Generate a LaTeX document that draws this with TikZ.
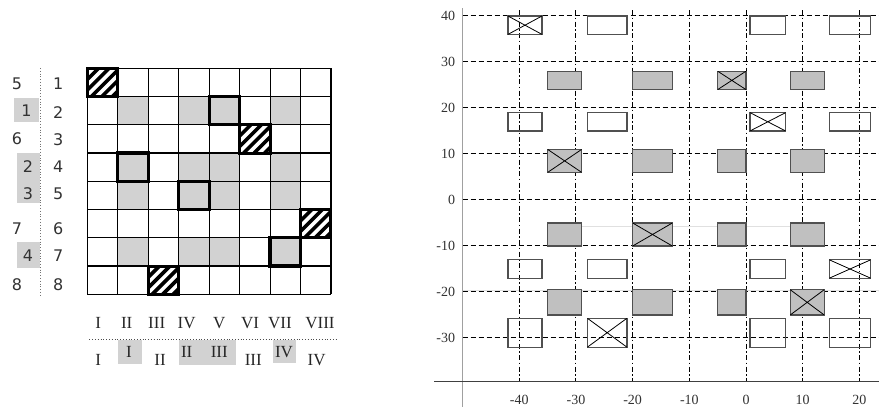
\documentclass[tikz,border=0pt]{standalone}
\usepackage{fontspec}
\setmainfont{Liberation Serif}
\newfontfamily\digitfont{DejaVu Sans}
\definecolor{cellfill}{RGB}{210,210,210}
\definecolor{slotfill}{RGB}{192,192,192}
\definecolor{slotline}{RGB}{80,80,80}
\definecolor{axisline}{RGB}{160,160,160}
\definecolor{labeltext}{RGB}{50,50,50}
\tikzset{
  hatched/.style={line width=3pt, path picture={
      \foreach \k in {-4,...,3}
        \draw[line width=3.6pt] ([xshift=\k*10.5pt+4pt]path picture bounding box.south west) -- ++(36pt,36pt);}},
  marked/.style={line width=3.2pt},
  rownum/.style={font=\digitfont\fontsize{16}{16}\selectfont, text=labeltext, inner sep=0pt},
  colnum/.style={font=\fontsize{17}{17}\selectfont, text=black!85, inner sep=0pt},
  ticklabel/.style={font=\fontsize{14}{14}\selectfont, text=labeltext, inner sep=0pt},
  hgrid/.style={dash pattern=on 5pt off 3pt, line width=1pt},
  vgrid/.style={dash pattern=on 5pt off 2.5pt on 1.5pt off 2.5pt, line width=1pt},
  slot/.style={draw=slotline, line width=1.1pt},
  crossed/.style={path picture={
      \draw[line width=0.8pt] (path picture bounding box.south west) -- (path picture bounding box.north east)
        (path picture bounding box.north west) -- (path picture bounding box.south east);}}
}
\begin{document}
\begin{tikzpicture}[x=1pt,y=1pt]
  \useasboundingbox (0,0) rectangle (879,407);
  % 8x8 table
  \begin{scope}[shift={(87.3pt,338.7pt)},x=30.46pt,y=-28.25pt]
    \foreach \r in {2,4,5,7}
      \foreach \c in {2,4,5,7}
        \fill[cellfill] (\c-1,\r-1) rectangle (\c,\r);
    \foreach \i in {0,...,8}
    {
      \draw[line width=1.1pt] (\i,0) -- (\i,8);
      \draw[line width=1.1pt] (0,\i) -- (8,\i);
    }
    \foreach \c/\r in {1/1,6/3,8/6,3/8}
      \draw[hatched] (\c-1,\r-1) rectangle (\c,\r);
    \foreach \c/\r in {5/2,2/4,4/5,7/7}
      \draw[marked] (\c-1,\r-1) rectangle (\c,\r);
  \end{scope}
  % row and column labels
  \begin{scope}[shift={(0pt,407pt)},y=-1pt]
    \fill[cellfill] (14,97.7) rectangle (39,121.7);
    \fill[cellfill] (16.7,153) rectangle (40,203);
    \fill[cellfill] (16.7,241.7) rectangle (40,268.3);
    \draw[dotted, line width=0.8pt, black!55] (40.7,68) -- (40.7,297);
    \foreach \n/\x/\y [count=\i] in {5/17/83.3, 1/26.5/111, 6/17/138.3, 2/28/166.7, 3/28/193.3, 7/17/228.3, 4/28/256, 8/17/284.3}
      \node[rownum] (order\i) at (\x,\y) {\n};
    \foreach \y [count=\i] in {83.3,112.7,140,166.7,193.3,228.3,256,284.3}
      \node[rownum] (row\i) at (58.3,\y) {\i};
    \fill[cellfill] (117.7,340) rectangle (142.3,364);
    \fill[cellfill] (179.3,340) rectangle (235.7,365);
    \fill[cellfill] (272.7,340) rectangle (296,363);
    \draw[dotted, line width=0.8pt, black!70] (89.3,339.3) -- (336.7,339.3);
    \foreach \t/\x [count=\i] in {I/98.3, II/126.7, III/156.7, IV/186.7, V/219.3, VI/250, VII/280, VIII/320}
      \node[colnum] (col\i) at (\x,323.3) {\t};
    \foreach \t/\x/\y [count=\i] in {I/98.3/360, I/129/351.7, II/160/360, II/186.7/351.7, III/219.3/351.7, III/253.3/360, IV/284/351.7, IV/316.7/360}
      \node[colnum] (group\i) at (\x,\y) {\t};
  \end{scope}
  % layout plot
  \begin{scope}[shift={(746pt,207pt)},x=5.667pt,y=4.6pt]
    \draw[black!12, line width=0.8pt] (-29,-5.8) -- (8,-5.8);
    \draw[black!12, line width=0.8pt] (-50,-19.6) -- (23.5,-19.6);
    \foreach \y in {-30,-20,...,40}
      \draw[hgrid] (-50,\y) -- (23.5,\y);
    \foreach \x in {-40,-30,...,20}
      \draw[vgrid] (\x,41.3) -- (\x,-39.5);
    \draw[axisline, line width=1.6pt] (-50,41.7) -- (-50,-45);
    \draw[black!75, line width=0.9pt] (-55,-39.5) -- (23.5,-39.5);
    \foreach \y [count=\i] in {-30,-20,...,40}
      \node[ticklabel, anchor=east] (ytick\i) at (-51.3,\y) {\y};
    \foreach \x [count=\i] in {-40,-30,...,20}
      \node[ticklabel] (xtick\i) at (\x,-43.4) {\x};
    % open slots
    \foreach \ya/\yb in {36/40,15/19,-17/-13,-32/-25.7}
      \foreach \xa/\xb in {-42/-36,-28/-21,0.7/7,14.7/22}
        \draw[slot] (\xa,\ya) rectangle (\xb,\yb);
    % filled slots
    \foreach \ya/\yb in {24/28,6/11,-10/-5,-25/-19.5}
      \foreach \xa/\xb in {-35/-29,-20/-13,-5/0,7.8/13.8}
        \draw[slot, fill=slotfill] (\xa,\ya) rectangle (\xb,\yb);
    % crossed slots
    \foreach \xa/\ya/\xb/\yb in {-42/36/-36/40, 0.7/15/7/19, 14.7/-17/22/-13, -28/-32/-21/-25.7,
                                 -5/24/0/28, -35/6/-29/11, -20/-10/-13/-5, 7.8/-25/13.8/-19.5}
      \path[crossed] (\xa,\ya) rectangle (\xb,\yb);
  \end{scope}
\end{tikzpicture}
\end{document}
